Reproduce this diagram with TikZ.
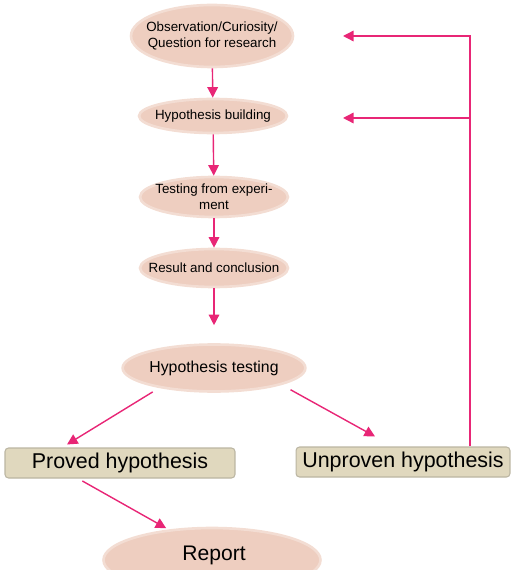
\documentclass[tikz,border=0pt]{standalone}
\usepackage{fontspec}
\setmainfont{Liberation Sans}
\usetikzlibrary{shapes.geometric,arrows.meta}
\definecolor{peach}{RGB}{238,206,192}
\definecolor{tan}{RGB}{224,216,190}
\definecolor{arrowpink}{RGB}{232,38,118}
\begin{document}
\begin{tikzpicture}[x=0.02cm,y=-0.02cm,
  oval/.style={ellipse, fill=peach, draw=peach!70, line width=1.5pt, inner sep=0pt, align=center},
  small/.style={font=\fontsize{7.6}{9.2}\selectfont, inner xsep=-8pt},
  outcome/.style={rectangle, rounded corners=2pt, fill=tan, draw=tan!80!black!90, line width=0.6pt, inner sep=0pt, minimum height=0.6cm, font=\fontsize{12.2}{14}\selectfont},
  flow/.style={draw=arrowpink, line width=0.8pt, -{Triangle[width=6pt,length=6pt]}}]
\useasboundingbox (0,0) rectangle (513,570);
\node[oval, small, minimum width=3.24cm, minimum height=1.24cm] (obs) at (212,36) {Observation/Curiosity/\\Question for research};
\node[oval, small, minimum width=2.96cm, minimum height=0.68cm] (hb) at (213,116) {Hypothesis building};
\node[oval, small, minimum width=2.96cm, minimum height=0.8cm] (tfe) at (214,197) {Testing from experi-\\ment};
\node[oval, small, minimum width=2.96cm, minimum height=0.76cm] (rac) at (214,268) {Result and conclusion};
\node[oval, font=\fontsize{9}{11}\selectfont, minimum width=3.64cm, minimum height=0.94cm] (hyt) at (214,368) {Hypothesis testing};
\node[outcome, minimum width=4.6cm] (prv) at (120,463) {Proved hypothesis};
\node[outcome, minimum width=4.28cm] (unp) at (403,462) {Unproven hypothesis};
\node[oval, minimum width=4.34cm, minimum height=1.28cm] (rep) at (212,560) {};
\node[font=\fontsize{12}{14}\selectfont] (reptext) at (214,555) {Report};
\coordinate (fb) at (470,36);
\coordinate (fbm) at (470,118);
\coordinate (tiptop) at (343,36);
\coordinate (tipmid) at (343,118);
\draw[flow] (obs) -- (hb);
\draw[flow] (hb) -- (tfe);
\draw[flow] (tfe) -- (rac);
\draw[flow, shorten >=0.36cm] (rac) -- (hyt);
\draw[flow, shorten <=0.15cm] (hyt.200) -- ([xshift=-1.06cm,yshift=0.06cm]prv.north);
\draw[flow, shorten <=0.2cm] (hyt.-14) -- ([xshift=-0.56cm,yshift=0.2cm]unp.north);
\draw[flow, shorten <=0.1cm, shorten >=0.05cm] ([xshift=-0.84cm]prv.south) -- (rep.145);
\draw[flow] (unp.north -| fb) -- (fb) -- (tiptop);
\draw[flow] (fbm) -- (tipmid);
\end{tikzpicture}
\end{document}
